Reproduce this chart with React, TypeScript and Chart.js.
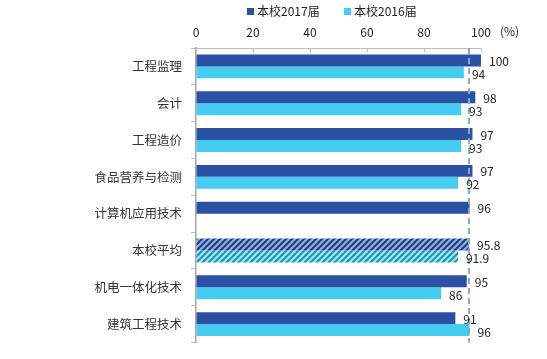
import React, { useEffect, useRef } from "react";
import { Chart, registerables } from "chart.js";

Chart.register(...registerables);

const categories = ["工程监理", "会计", "工程造价", "食品营养与检测", "计算机应用技术", "本校平均", "机电一体化技术", "建筑工程技术"];
const series2017 = [100, 98, 97, 97, 96, 95.8, 95, 91];
const series2016: (number | null)[] = [94, 93, 93, 92, null, 91.9, 86, 96];
const seriesNames = ["本校2017届", "本校2016届"];
const xTicks = [0, 20, 40, 60, 80, 100];
const averageIndex = 5;
const averageLine = 95.8;

const FONT = "'Noto Sans CJK SC', 'Noto Sans', sans-serif";
const C2017 = "#2A51A3";
const C2016 = "#45CDF1";

function hatch(ctx: CanvasRenderingContext2D, bg: string, fg: string) {
  const c = document.createElement("canvas");
  c.width = 6;
  c.height = 6;
  const x = c.getContext("2d")!;
  x.fillStyle = bg;
  x.fillRect(0, 0, 6, 6);
  x.strokeStyle = fg;
  x.lineWidth = 2.2;
  x.beginPath();
  x.moveTo(-1, 7); x.lineTo(7, -1);
  x.moveTo(-1, 1); x.lineTo(1, -1);
  x.moveTo(5, 7); x.lineTo(7, 5);
  x.stroke();
  return ctx.createPattern(c, "repeat")!;
}

export default function App() {
  const ref = useRef<HTMLCanvasElement>(null);
  useEffect(() => {
    const canvas = ref.current!;
    const ctx = canvas.getContext("2d")!;
    const p17 = hatch(ctx, "#1F3C85", "#8DB0DD");
    const p16 = hatch(ctx, "#1497B8", "#A9E2F0");
    const bg17 = categories.map((_, i) => (i === averageIndex ? p17 : C2017));
    const bg16 = categories.map((_, i) => (i === averageIndex ? p16 : C2016));

    const extras = {
      id: "extras",
      afterDatasetsDraw(chart: any) {
        const c = chart.ctx;
        const area = chart.chartArea;
        const xs = chart.scales.x;
        // dashed average line
        c.save();
        c.strokeStyle = "#8FA5C5";
        c.lineWidth = 2;
        c.setLineDash([6, 4]);
        const ax = xs.getPixelForValue(averageLine);
        c.beginPath();
        c.moveTo(ax, area.top);
        c.lineTo(ax, area.bottom);
        c.stroke();
        c.restore();
        // value labels
        c.save();
        c.font = `12px ${FONT}`;
        c.fillStyle = "#222";
        c.textAlign = "left";
        c.textBaseline = "middle";
        chart.data.datasets.forEach((ds: any, di: number) => {
          const meta = chart.getDatasetMeta(di);
          meta.data.forEach((el: any, i: number) => {
            const v = ds.data[i];
            if (v === null || v === undefined) return;
            c.fillText(String(v), el.x + 8, el.y + (di === 0 ? 1 : 2));
          });
        });
        c.restore();
        // inward ticks on top axis
        c.save();
        c.strokeStyle = "#BFBFBF";
        c.lineWidth = 1;
        xTicks.forEach((t) => {
          const px = Math.round(xs.getPixelForValue(t)) + 0.5;
          c.beginPath();
          c.moveTo(px, area.top);
          c.lineTo(px, area.top + 4);
          c.stroke();
        });
        c.restore();
        // unit
        c.save();
        c.font = `12px ${FONT}`;
        c.fillStyle = "#222";
        c.textAlign = "left";
        c.textBaseline = "middle";
        c.fillText("(%)", 500, 31);
        // legend
        const items = [
          { x: 247, color: C2017, text: seriesNames[0] },
          { x: 344, color: C2016, text: seriesNames[1] },
        ];
        items.forEach((it) => {
          c.fillStyle = it.color;
          c.fillRect(it.x, 8, 7, 7);
          c.fillStyle = "#222";
          c.fillText(it.text, it.x + 10, 11.5);
        });
        c.restore();
      },
    };

    const chart = new Chart(canvas, {
      type: "bar",
      data: {
        labels: categories,
        datasets: [
          { label: seriesNames[0], data: series2017, backgroundColor: bg17 as any, barPercentage: 1, categoryPercentage: 0.65 },
          { label: seriesNames[1], data: series2016 as any, backgroundColor: bg16 as any, barPercentage: 1, categoryPercentage: 0.65 },
        ],
      },
      options: {
        indexAxis: "y",
        animation: false,
        responsive: false,
        maintainAspectRatio: false,
        layout: { padding: { left: 0, right: 66, top: 0, bottom: 14 } },
        plugins: { legend: { display: false }, tooltip: { enabled: false } },
        scales: {
          x: {
            position: "top",
            min: 0,
            max: 100,
            afterBuildTicks(scale: any) {
              scale.ticks = xTicks.map((v) => ({ value: v }));
            },
            afterFit(scale: any) {
              scale.height = 48;
            },
            grid: { display: true, drawOnChartArea: false, drawTicks: false, color: "#BFBFBF" },
            border: { display: true, color: "#BFBFBF", width: 1 },
            ticks: { padding: 8, color: "#222", font: { family: FONT, size: 12 } },
          },
          y: {
            afterFit(scale: any) {
              scale.width = 196;
            },
            grid: { display: true, drawOnChartArea: false, drawTicks: true, tickLength: 5, color: "#BFBFBF", offset: true },
            border: { display: true, color: "#A6A6A6", width: 1.5 },
            ticks: { padding: 9, color: "#333", font: { family: FONT, size: 12.5 } },
          },
        },
      },
      plugins: [extras],
    });
    return () => chart.destroy();
  }, []);
  return (
    <div style={{ position: "absolute", left: 0, top: 0, width: 547, height: 359, background: "#fff" }}>
      <canvas ref={ref} width={547} height={359} style={{ display: "block" }} />
    </div>
  );
}
